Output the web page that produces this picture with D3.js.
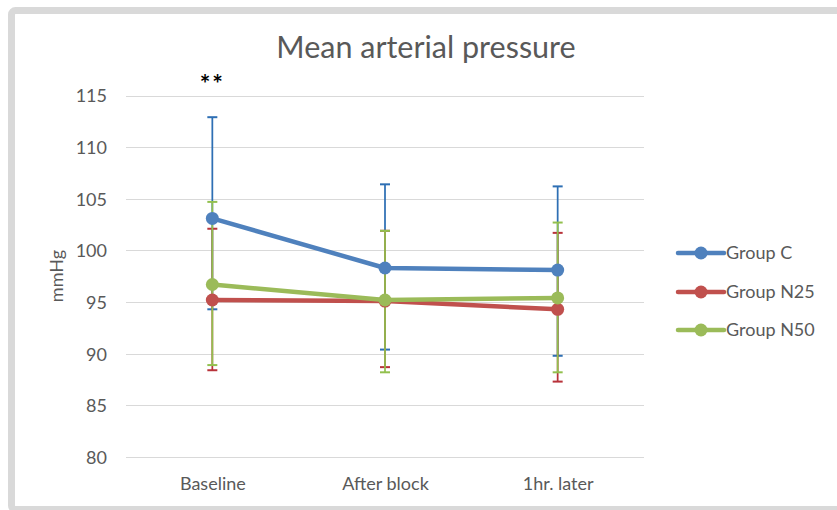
<!DOCTYPE html>
<html>
<head>
<meta charset="utf-8">
<script src="https://cdn.jsdelivr.net/npm/d3@7/dist/d3.min.js"></script>
<style>
  html, body { margin: 0; padding: 0; background: #fff; }
  svg { display: block; }
  text { font-family: Lato, "Open Sans", sans-serif; fill: #595959; }
</style>
</head>
<body>
<svg id="chart" width="837" height="510"></svg>
<script>
// Time points
const categories = ["Baseline", "After block", "1hr. later"];

// Group means (mmHg) with upper / lower error-bar ends
const groupC      = [103.1, 98.3, 98.1];
const groupCUpper = [112.9, 106.4, 106.2];
const groupCLower = [94.3, 90.4, 89.8];

const groupN25      = [95.2, 95.1, 94.3];
const groupN25Upper = [102.1, 101.9, 101.7];
const groupN25Lower = [88.4, 88.7, 87.3];

const groupN50      = [96.7, 95.2, 95.4];
const groupN50Upper = [104.7, 101.9, 102.7];
const groupN50Lower = [88.9, 88.2, 88.2];

const yTicks = [80, 85, 90, 95, 100, 105, 110, 115];

const seriesNames = ["Group C", "Group N25", "Group N50"];
const lineColors = ["#4f81bd", "#c0504d", "#9bbb59"];
const barColors  = ["#2e6fb4", "#b8323a", "#92c04e"];

const series = [
  { name: seriesNames[0], values: groupC,   upper: groupCUpper,   lower: groupCLower,   color: lineColors[0], bar: barColors[0] },
  { name: seriesNames[1], values: groupN25, upper: groupN25Upper, lower: groupN25Lower, color: lineColors[1], bar: barColors[1] },
  { name: seriesNames[2], values: groupN50, upper: groupN50Upper, lower: groupN50Lower, color: lineColors[2], bar: barColors[2] }
];

const svg = d3.select("#chart");

// Chart frame
svg.append("rect")
  .attr("x", 11.5).attr("y", 10.5)
  .attr("width", 900).attr("height", 499)
  .attr("rx", 4)
  .attr("fill", "#fff")
  .attr("stroke", "#d9d9d9")
  .attr("stroke-width", 7);

const plot = { left: 126, right: 644, top: 95.5, bottom: 457 };

const x = d3.scalePoint()
  .domain(categories)
  .range([plot.left, plot.right])
  .padding(0.5);

const y = d3.scaleLinear()
  .domain([80, 115])
  .range([plot.bottom, plot.top]);

// Horizontal gridlines
svg.append("g")
  .selectAll("line")
  .data(yTicks)
  .join("line")
  .attr("x1", plot.left).attr("x2", plot.right)
  .attr("y1", d => Math.round(y(d)) + 0.5)
  .attr("y2", d => Math.round(y(d)) + 0.5)
  .attr("stroke", "#d9d9d9")
  .attr("stroke-width", 1);

// Y axis labels
const yAxis = d3.axisLeft(y).tickValues(yTicks).tickSize(0).tickPadding(0);
const gy = svg.append("g")
  .attr("transform", `translate(107,0)`)
  .call(yAxis);
gy.select(".domain").remove();
gy.selectAll("text")
  .attr("font-family", "Lato, sans-serif")
  .attr("font-size", 18)
  .attr("fill", "#595959")
  .attr("dy", "0.36em");

// X axis labels
const xAxis = d3.axisBottom(x).tickSize(0).tickPadding(0);
const gx = svg.append("g")
  .attr("transform", `translate(0,477)`)
  .call(xAxis);
gx.select(".domain").remove();
gx.selectAll("text")
  .attr("font-family", "Lato, sans-serif")
  .attr("font-size", 18)
  .attr("fill", "#595959")
  .attr("dy", "0.72em");

// Y axis title
svg.append("text")
  .attr("transform", "translate(63,276) rotate(-90)")
  .attr("text-anchor", "middle")
  .attr("font-size", 18)
  .text("mmHg");

// Chart title
svg.append("text")
  .attr("x", 426).attr("y", 58)
  .attr("text-anchor", "middle")
  .attr("font-size", 30.5)
  .text("Mean arterial pressure");

// Significance marker
svg.append("text")
  .attr("x", x(categories[0])).attr("y", 93)
  .attr("text-anchor", "middle")
  .attr("font-size", 25)
  .attr("font-weight", "bold")
  .attr("letter-spacing", 2)
  .style("fill", "#000")
  .text("**");

// Error bars
const capHalf = 5;
series.forEach(s => {
  const g = svg.append("g");
  categories.forEach((c, i) => {
    const cx = x(c);
    g.append("line")
      .attr("x1", cx).attr("x2", cx)
      .attr("y1", y(s.upper[i])).attr("y2", y(s.lower[i]))
      .attr("stroke", s.bar).attr("stroke-width", 1.75);
    [s.upper[i], s.lower[i]].forEach(v => {
      g.append("line")
        .attr("x1", cx - capHalf).attr("x2", cx + capHalf)
        .attr("y1", y(v)).attr("y2", y(v))
        .attr("stroke", s.bar).attr("stroke-width", 2);
    });
  });
});

// Lines and markers
const line = d3.line()
  .x((d, i) => x(categories[i]))
  .y(d => y(d));

series.forEach(s => {
  svg.append("path")
    .datum(s.values)
    .attr("d", line)
    .attr("fill", "none")
    .attr("stroke", s.color)
    .attr("stroke-width", 4.5)
    .attr("stroke-linejoin", "round")
    .attr("stroke-linecap", "round");
  svg.append("g")
    .selectAll("circle")
    .data(s.values)
    .join("circle")
    .attr("cx", (d, i) => x(categories[i]))
    .attr("cy", d => y(d))
    .attr("r", 6.5)
    .attr("fill", s.color);
});

// Legend
const legend = svg.append("g");
const legendY = [253, 292, 330];
series.forEach((s, i) => {
  const ly = legendY[i];
  legend.append("line")
    .attr("x1", 678).attr("x2", 724)
    .attr("y1", ly).attr("y2", ly)
    .attr("stroke", s.color).attr("stroke-width", 4.5)
    .attr("stroke-linecap", "round");
  legend.append("circle")
    .attr("cx", 701).attr("cy", ly).attr("r", 6.5)
    .attr("fill", s.color);
  legend.append("text")
    .attr("x", 726).attr("y", ly)
    .attr("dy", "0.36em")
    .attr("font-size", 18)
    .text(s.name);
});
</script>
</body>
</html>
